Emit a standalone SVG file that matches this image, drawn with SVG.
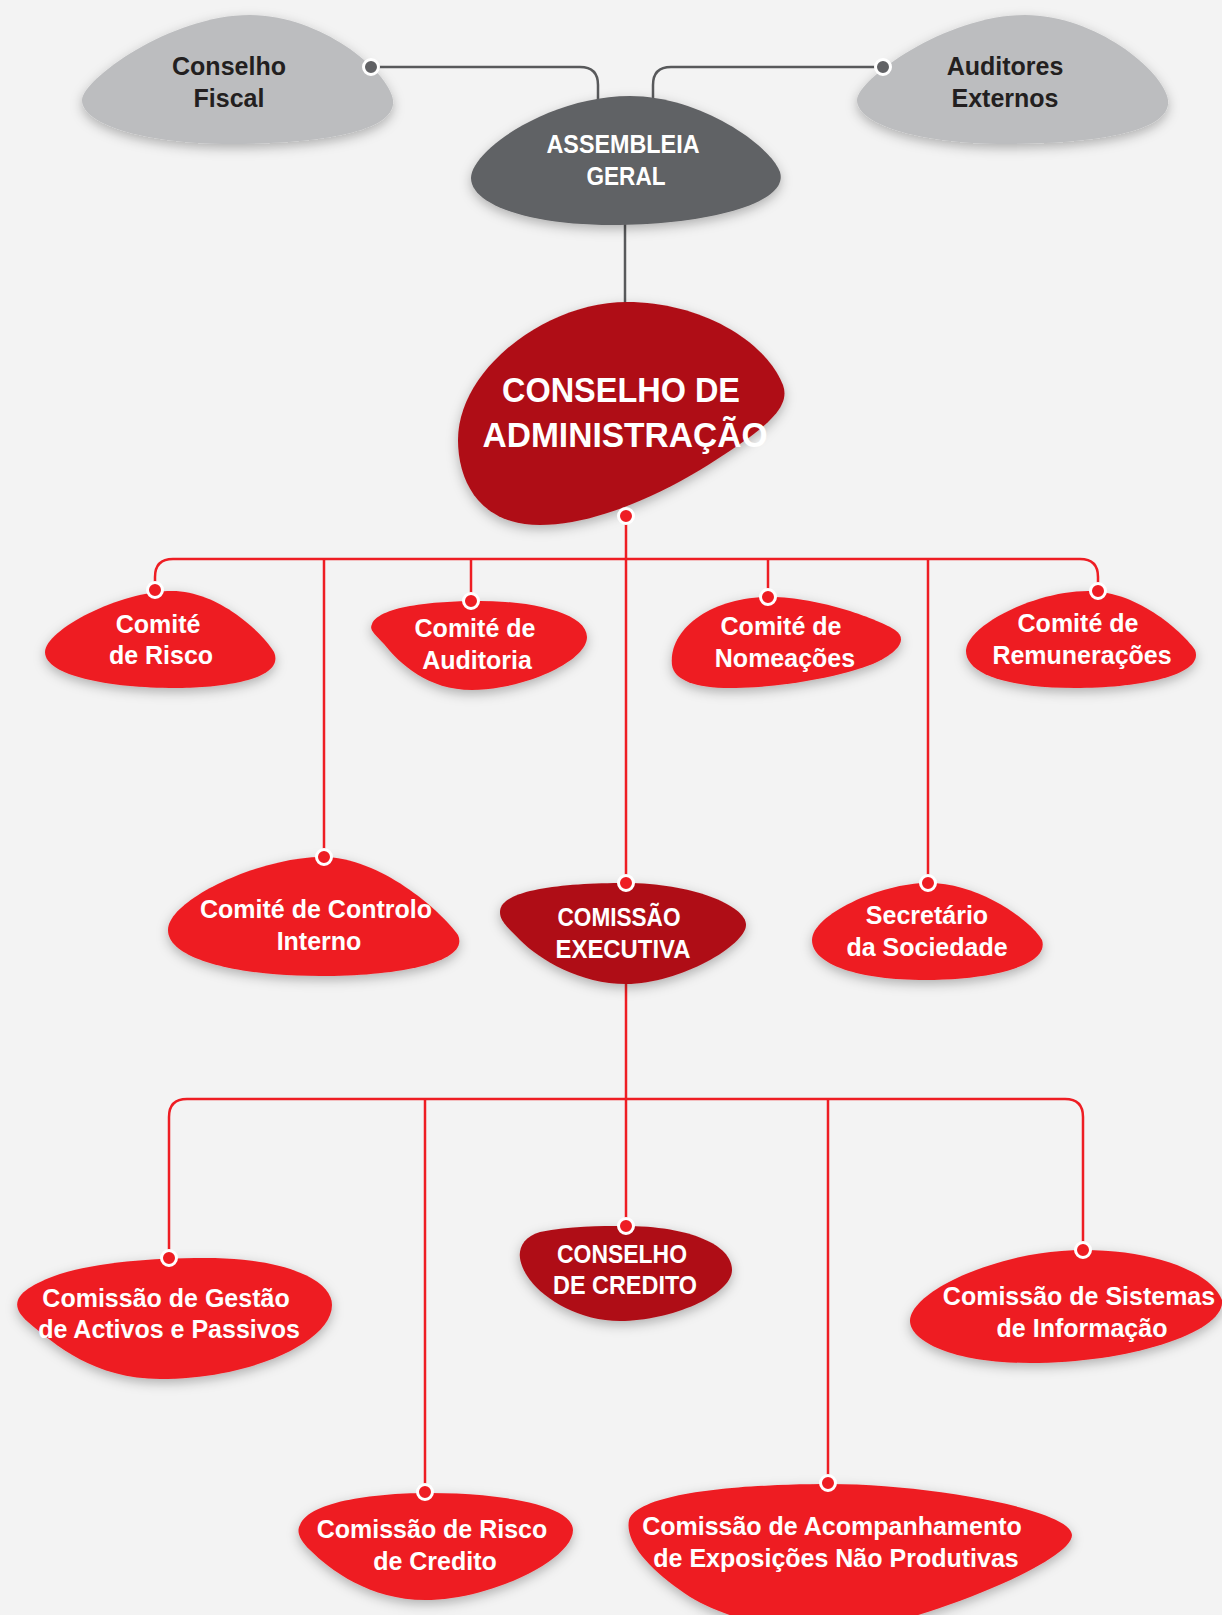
<svg xmlns="http://www.w3.org/2000/svg" width="1222" height="1615" viewBox="0 0 1222 1615">
<defs>
<filter id="sh" x="-20%" y="-20%" width="140%" height="150%">
<feDropShadow dx="0" dy="4" stdDeviation="6" flood-color="#000" flood-opacity="0.28"/>
</filter>
<style>
.red{fill:#ee1d23;filter:url(#sh)}
.dred{fill:#af1018;filter:url(#sh)}
.lgray{fill:#bcbdbf;filter:url(#sh)}
.dgray{fill:#616265;filter:url(#sh)}
text{font-family:"Liberation Sans",Arial,sans-serif;font-weight:700;font-size:25px;text-anchor:middle}
.w{fill:#ffffff}
.k{fill:#231f20}
.big{font-size:35px}
.rl{fill:none;stroke:#ee1d23;stroke-width:2.5}
.gl{fill:none;stroke:#58595b;stroke-width:2.5}
.rd{fill:#ee1d23;stroke:#ffffff;stroke-width:3}
.gd{fill:#616265;stroke:#ffffff;stroke-width:3}
</style>
</defs>
<rect width="1222" height="1615" fill="#f3f3f3"/>

<g id="connectors">
<path class="gl" d="M371,67 H580 Q598,67 598,85 V102"/>
<path class="gl" d="M883,67 H671 Q653,67 653,85 V102"/>
<path class="gl" d="M625,222 V305"/>
<path class="rl" d="M155,590 V577 Q155,559 173,559 H1080 Q1098,559 1098,577 V591"/>
<path class="rl" d="M626,516 V883"/>
<path class="rl" d="M324,559 V857"/>
<path class="rl" d="M471,559 V601"/>
<path class="rl" d="M768,559 V597"/>
<path class="rl" d="M928,559 V883"/>
<path class="rl" d="M626,982 V1226"/>
<path class="rl" d="M169,1258 V1117 Q169,1099 187,1099 H1065 Q1083,1099 1083,1117 V1250"/>
<path class="rl" d="M425,1099 V1492"/>
<path class="rl" d="M828,1099 V1483"/>
</g>

<g id="n-conselho-fiscal">
<path class="lgray" d="M250,15 C320,15 388,70 393,100 C397,132 320,144 230,144 C150,144 82,126 82,100 C82,80 170,15 250,15 Z"/>
<text class="k" x="229" y="75">Conselho</text>
<text class="k" x="229" y="107">Fiscal</text>
</g>
<g id="n-auditores-externos">
<path class="lgray" d="M1025,15 C1095,15 1163,70 1168,100 C1172,132 1095,144 1005,144 C925,144 857,126 857,100 C857,80 945,15 1025,15 Z"/>
<text class="k" x="1005" y="75">Auditores</text>
<text class="k" x="1005" y="107">Externos</text>
</g>
<g id="n-assembleia-geral">
<path class="dgray" d="M630,96 C700,96 770,145 780,172 C790,205 700,225 612,225 C530,225 471,205 471,178 C471,150 550,96 630,96 Z"/>
<text class="w" x="623" y="153" textLength="153" lengthAdjust="spacingAndGlyphs">ASSEMBLEIA</text>
<text class="w" x="626" y="185" textLength="79" lengthAdjust="spacingAndGlyphs">GERAL</text>
</g>
<g id="n-conselho-administracao">
<path class="dred" d="M627,302 C700,302 765,340 783,385 C792,410 760,432 700,470 C650,500 590,525 540,525 C480,525 458,482 458,440 C458,370 545,302 627,302 Z"/>
<text class="w big" x="621" y="402" textLength="238" lengthAdjust="spacingAndGlyphs">CONSELHO DE</text>
<text class="w big" x="625" y="447" textLength="285" lengthAdjust="spacingAndGlyphs">ADMINISTRAÇÃO</text>
</g>

<g id="n-comite-risco">
<path class="red" d="M172,591 C218,591 262,632 274,652 C286,680 220,688 175,688 C110,688 45,676 45,652 C45,630 120,591 172,591 Z"/>
<text class="w" x="158" y="633">Comité</text>
<text class="w" x="161" y="664">de Risco</text>
</g>
<g id="n-comite-auditoria">
<path class="red" d="M372,624 C380,605 440,601 480,601 C535,601 587,614 587,637 C587,662 522,690 472,690 C428,690 400,664 384,644 C374,633 369,630 372,624 Z"/>
<text class="w" x="475" y="637">Comité de</text>
<text class="w" x="477" y="669">Auditoria</text>
</g>
<g id="n-comite-nomeacoes">
<path class="red" d="M672,665 C668,630 710,597 770,597 C820,597 880,620 895,630 C910,640 895,655 870,665 C830,680 770,688 730,688 C695,688 674,680 672,665 Z"/>
<text class="w" x="781" y="635">Comité de</text>
<text class="w" x="785" y="667">Nomeações</text>
</g>
<g id="n-comite-remuneracoes">
<path class="red" d="M1088,591 C1140,591 1185,635 1195,650 C1205,675 1140,688 1075,688 C1010,688 965,675 966,650 C968,625 1035,591 1088,591 Z"/>
<text class="w" x="1078" y="632">Comité de</text>
<text class="w" x="1082" y="664">Remunerações</text>
</g>

<g id="n-comite-controlo-interno">
<path class="red" d="M322,857 C380,857 440,910 458,935 C470,962 400,976 320,976 C240,976 168,960 168,930 C168,900 260,857 322,857 Z"/>
<text class="w" x="316" y="918">Comité de Controlo</text>
<text class="w" x="319" y="950">Interno</text>
</g>
<g id="n-comissao-executiva">
<path class="dred" d="M500,912 C500,890 560,883 626,883 C690,883 746,905 746,925 C746,945 680,984 626,984 C580,984 540,960 520,940 C505,925 500,920 500,912 Z"/>
<text class="w" x="619" y="926" textLength="123" lengthAdjust="spacingAndGlyphs">COMISSÃO</text>
<text class="w" x="623" y="958" textLength="135" lengthAdjust="spacingAndGlyphs">EXECUTIVA</text>
</g>
<g id="n-secretario-sociedade">
<path class="red" d="M928,883 C980,883 1030,920 1042,940 C1050,966 990,980 925,980 C860,980 812,965 812,940 C812,915 880,883 928,883 Z"/>
<text class="w" x="927" y="924">Secretário</text>
<text class="w" x="927" y="956">da Sociedade</text>
</g>

<g id="n-comissao-gestao">
<path class="red" d="M205,1258 C285,1258 332,1280 332,1305 C332,1342 250,1379 160,1379 C95,1379 55,1345 28,1322 C5,1302 20,1288 60,1274 C100,1262 150,1258 205,1258 Z"/>
<text class="w" x="166" y="1307">Comissão de Gestão</text>
<text class="w" x="169" y="1338">de Activos e Passivos</text>
</g>
<g id="n-conselho-credito">
<path class="dred" d="M624,1226 C690,1226 732,1245 732,1270 C732,1295 670,1321 620,1321 C580,1321 545,1300 530,1280 C515,1260 515,1240 540,1232 C570,1226 600,1226 624,1226 Z"/>
<text class="w" x="622" y="1263" textLength="130" lengthAdjust="spacingAndGlyphs">CONSELHO</text>
<text class="w" x="625" y="1294" textLength="144" lengthAdjust="spacingAndGlyphs">DE CREDITO</text>
</g>
<g id="n-comissao-sistemas">
<path class="red" d="M1084,1250 C1150,1250 1210,1270 1222,1300 C1226,1332 1130,1363 1030,1363 C950,1363 909,1340 910,1320 C912,1290 1000,1250 1084,1250 Z"/>
<text class="w" x="1079" y="1305">Comissão de Sistemas</text>
<text class="w" x="1082" y="1337">de Informação</text>
</g>
<g id="n-comissao-risco-credito">
<path class="red" d="M300,1525 C310,1500 380,1493 430,1493 C500,1493 573,1505 573,1530 C573,1560 490,1600 425,1600 C370,1600 330,1570 310,1550 C300,1540 296,1532 300,1525 Z"/>
<text class="w" x="432" y="1538">Comissão de Risco</text>
<text class="w" x="435" y="1570">de Credito</text>
</g>
<g id="n-comissao-acompanhamento">
<path class="red" d="M629,1520 C640,1490 760,1484 830,1484 C930,1484 1072,1510 1072,1535 C1072,1560 950,1610 880,1625 C800,1640 720,1620 680,1590 C645,1565 625,1540 629,1520 Z"/>
<text class="w" x="832" y="1535">Comissão de Acompanhamento</text>
<text class="w" x="836" y="1567">de Exposições Não Produtivas</text>
</g>

<g id="connector-ends">
<circle class="gd" cx="371" cy="67" r="7.5"/>
<circle class="gd" cx="883" cy="67" r="7.5"/>
<circle class="rd" cx="626" cy="516" r="7.5"/>
<circle class="rd" cx="155" cy="590" r="7.5"/>
<circle class="rd" cx="471" cy="601" r="7.5"/>
<circle class="rd" cx="768" cy="597" r="7.5"/>
<circle class="rd" cx="1098" cy="591" r="7.5"/>
<circle class="rd" cx="324" cy="857" r="7.5"/>
<circle class="rd" cx="626" cy="883" r="7.5"/>
<circle class="rd" cx="928" cy="883" r="7.5"/>
<circle class="rd" cx="169" cy="1258" r="7.5"/>
<circle class="rd" cx="626" cy="1226" r="7.5"/>
<circle class="rd" cx="1083" cy="1250" r="7.5"/>
<circle class="rd" cx="425" cy="1492" r="7.5"/>
<circle class="rd" cx="828" cy="1483" r="7.5"/>
</g>
</svg>
